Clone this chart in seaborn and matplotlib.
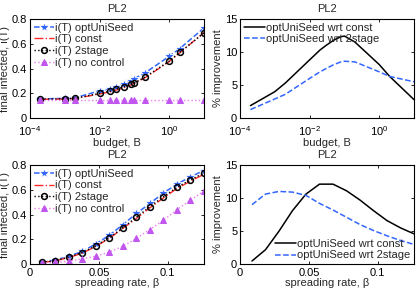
import matplotlib
matplotlib.use("Agg")
import matplotlib.pyplot as plt
import seaborn as sns
import numpy as np
import pandas as pd
from matplotlib.ticker import LogFormatterMathtext, FixedLocator, NullLocator

# ---------------- data ----------------
budget = [2e-4, 1e-3, 2e-3, 1e-2, 2e-2, 3e-2, 5e-2, 8e-2, 0.1, 0.2, 1.0, 2.0, 10.0]
b_opt = [0.155, 0.160, 0.165, 0.220, 0.237, 0.250, 0.275, 0.300, 0.318, 0.364, 0.498, 0.560, 0.727]
b_const = [0.152, 0.154, 0.158, 0.195, 0.212, 0.226, 0.245, 0.268, 0.280, 0.325, 0.455, 0.525, 0.690]
b_2stage = [0.153, 0.157, 0.160, 0.200, 0.218, 0.234, 0.252, 0.275, 0.285, 0.330, 0.460, 0.530, 0.686]
b_noctrl = [0.146] * 13
b_imp_const = [1.9, 4.0, 5.3, 8.8, 10.3, 11.0, 11.8, 12.3, 12.4, 11.5, 8.1, 6.3, 2.8]
b_imp_2stage = [1.3, 2.9, 3.6, 6.0, 7.0, 7.5, 8.1, 8.5, 8.6, 8.5, 7.0, 6.3, 5.5]

beta = [0.0087, 0.0185, 0.0283, 0.0381, 0.0479, 0.0577, 0.0675, 0.0773, 0.0871,
        0.0969, 0.1067, 0.1165, 0.1263]
s_opt = [0.020, 0.035, 0.065, 0.105, 0.165, 0.235, 0.320, 0.410, 0.490, 0.575, 0.645, 0.705, 0.755]
s_const = [0.015, 0.028, 0.055, 0.090, 0.145, 0.210, 0.290, 0.370, 0.455, 0.535, 0.610, 0.670, 0.725]
s_2stage = [0.015, 0.030, 0.060, 0.095, 0.150, 0.215, 0.295, 0.380, 0.465, 0.545, 0.620, 0.680, 0.735]
s_noctrl = [0.010, 0.015, 0.025, 0.045, 0.065, 0.100, 0.145, 0.210, 0.280, 0.355, 0.440, 0.515, 0.590]
s_imp_const = [0.5, 2.2, 5.0, 8.1, 10.6, 12.1, 12.1, 11.1, 9.7, 8.1, 6.6, 5.5, 4.6]
s_imp_2stage = [9.0, 10.6, 11.0, 10.9, 10.4, 9.2, 8.2, 7.1, 6.0, 5.1, 4.3, 3.6, 3.0]

lab_opt = "i(T) optUniSeed"
lab_const = "i(T) const"
lab_2stage = "i(T) 2stage"
lab_noctrl = "i(T) no control"
lab_wc = "optUniSeed wrt const"
lab_w2 = "optUniSeed wrt 2stage"

# ---------------- style ----------------
sns.set_theme(style="ticks")
plt.rcParams["font.family"] = ["Liberation Sans", "DejaVu Sans"]
plt.rcParams["mathtext.fontset"] = "custom"
plt.rcParams["mathtext.rm"] = "Liberation Sans"
plt.rcParams["xtick.direction"] = "in"
plt.rcParams["ytick.direction"] = "in"
FS = 8

BLUE = "#3366ff"
RED = "#ff2a2a"
VIOLET = "#c056ee"
PINK = "#f07af0"

fig = plt.figure(figsize=(4.2, 2.94), dpi=100)
W = 174 / 420
H = 0.338
ax_tl = fig.add_axes([30 / 420, 0.598, W, H])
ax_tr = fig.add_axes([240 / 420, 0.598, W, H])
ax_bl = fig.add_axes([30 / 420, 0.101, W, H])
ax_br = fig.add_axes([240 / 420, 0.101, W, H])


def infected_panel(ax, x, opt, const, two, noc):
    sns.lineplot(x=x, y=opt, ax=ax, color=BLUE, linestyle="--", lw=1.1,
                 marker="*", markersize=7, markeredgewidth=0.6, label=lab_opt)
    sns.lineplot(x=x, y=const, ax=ax, color=RED, linestyle="-.", lw=1.0,
                 label=lab_const)
    sns.lineplot(x=x, y=two, ax=ax, color="black", linestyle=":", lw=1.0,
                 marker="o", markersize=4.2, markerfacecolor="none",
                 markeredgecolor="black", markeredgewidth=1.1, label=lab_2stage)
    sns.lineplot(x=x, y=noc, ax=ax, color=PINK, linestyle=":", lw=1.0,
                 marker="^", markersize=5, markerfacecolor=VIOLET,
                 markeredgecolor=VIOLET, label=lab_noctrl)
    ax.set_ylim(0, 0.8)
    ax.set_yticks([0, 0.2, 0.4, 0.6, 0.8])
    ax.set_yticklabels(["0", "0.2", "0.4", "0.6", "0.8"])
    ax.set_ylabel("final infected, i(T)", fontsize=FS, labelpad=1)
    ax.legend(loc="upper left", frameon=False, fontsize=FS, handlelength=1.8,
              handletextpad=0.1, labelspacing=0.15, borderaxespad=0.15,
              borderpad=0.2)


def improve_panel(ax, x, c, t, loc):
    sns.lineplot(x=x, y=c, ax=ax, color="black", linestyle="-", lw=1.1, label=lab_wc)
    sns.lineplot(x=x, y=t, ax=ax, color=BLUE, linestyle="--", lw=1.1, label=lab_w2)
    ax.set_ylim(0, 15)
    ax.set_yticks([0, 5, 10, 15])
    ax.set_ylabel("% improvement", fontsize=FS, labelpad=1)
    ax.legend(loc=loc, frameon=False, fontsize=FS, handlelength=1.9,
              handletextpad=0.1, labelspacing=0.1, borderaxespad=0.15,
              borderpad=0.2)


infected_panel(ax_tl, budget, b_opt, b_const, b_2stage, b_noctrl)
improve_panel(ax_tr, budget, b_imp_const, b_imp_2stage, "upper left")
infected_panel(ax_bl, beta, s_opt, s_const, s_2stage, s_noctrl)
improve_panel(ax_br, beta, s_imp_const, s_imp_2stage, "lower right")

for ax in (ax_tl, ax_tr, ax_bl, ax_br):
    ax.set_title("PL2", fontsize=FS, pad=5)
    for s in ax.spines.values():
        s.set_visible(True)
        s.set_linewidth(0.8)
        s.set_color("black")
    ax.tick_params(axis="both", which="both", direction="in", top=True, right=True,
                   labelsize=FS, length=2.5, width=0.6, pad=2, colors="black")
    ax.set_facecolor("white")

for ax in (ax_tl, ax_tr):
    ax.set_xscale("log")
    ax.set_xlim(1e-4, 10)
    ax.xaxis.set_major_locator(FixedLocator([1e-4, 1e-2, 1e0]))
    ax.xaxis.set_major_formatter(LogFormatterMathtext())
    ax.xaxis.set_minor_locator(NullLocator())
    ax.set_xlabel("budget, B", fontsize=FS, labelpad=0)
    ax.tick_params(axis="x", pad=4)

for ax in (ax_bl, ax_br):
    ax.set_xlim(0, 0.1263)
    ax.set_xticks([0, 0.05, 0.1])
    ax.set_xticklabels(["0", "0.05", "0.1"])
    ax.set_xlabel("spreading rate, β", fontsize=FS, labelpad=0)
    ax.tick_params(axis="x", pad=3)

fig.savefig("out.png", dpi=100, facecolor="white")
